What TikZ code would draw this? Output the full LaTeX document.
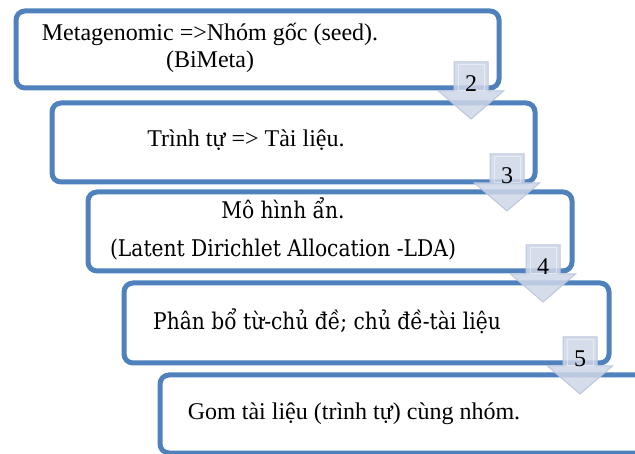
\documentclass[tikz,border=0pt]{standalone}
\usepackage{fontspec}
\setmainfont{Liberation Serif}
\newfontfamily\slabfont[FakeStretch=0.88]{DejaVu Serif}
\definecolor{boxblue}{RGB}{79,129,189}
\definecolor{arrowfill}{RGB}{206,214,231}
\definecolor{arrowedge}{RGB}{188,199,222}

\tikzset{
  stagebox/.style={draw=boxblue, line width=5pt, rounded corners=9pt,
    fill=white, rectangle, anchor=north west, inner sep=0pt},
  times/.style={font=\fontsize{24}{28}\selectfont, anchor=base, inner sep=0pt},
  slab/.style={font=\slabfont\fontsize{23}{27}\selectfont, anchor=base, inner sep=0pt},
  pics/downarrow/.style={code={
    \filldraw[fill=arrowfill, fill opacity=0.85, draw=arrowedge, line width=1pt]
      (-17,0) -- (17,0) -- (17,29) -- (32.5,29) -- (0,57) -- (-32.5,29)
      -- (-17,29) -- cycle;
    \draw[white, opacity=0.45, line width=1pt] (-13,3) rectangle (13,29);
    \node[times] (-num) at (0,30) {#1};
  }}
}

\begin{document}
\begin{tikzpicture}[x=1pt, y=-1pt]
\useasboundingbox (0,0) rectangle (635,454);
\clip (0,0) rectangle (635,454);

% the five stage boxes, stepping down and to the right
\node[stagebox, minimum width=483pt, minimum height=77pt] (b1) at (13.5,8.5) {};
\node[stagebox, minimum width=483pt, minimum height=79pt] (b2) at (49.5,100.5) {};
\node[stagebox, minimum width=484pt, minimum height=79pt] (b3) at (85.5,189.5) {};
\node[stagebox, minimum width=485pt, minimum height=80pt] (b4) at (121.5,280.5) {};
\node[stagebox, minimum width=485pt, minimum height=78pt] (b5) at (157.5,372.5) {};

% texts
\node[times] (t1a) at (210,41) {Metagenomic =>Nhóm gốc (seed).};
\node[times] (t1b) at (210,68) {(BiMeta)};
\node[times] (t2) at (246,147) {Trình tự => Tài liệu.};
\node[slab] (t3a) at (283,219) {Mô hình ẩn.};
\node[slab] (t3b) at (283,257) {(Latent Dirichlet Allocation -LDA)};
\node[slab] (t4) at (327,330) {Phân bổ từ-chủ đề; chủ đề-tài liệu};
\node[times] (t5) at (354,420) {Gom tài liệu (trình tự) cùng nhóm.};

% numbered down arrows between the stages
\pic (a2) at (471,62) {downarrow=2};
\pic (a3) at (507,154) {downarrow=3};
\pic (a4) at (543,245) {downarrow=4};
\pic (a5) at (580,337) {downarrow=5};
\end{tikzpicture}
\end{document}
